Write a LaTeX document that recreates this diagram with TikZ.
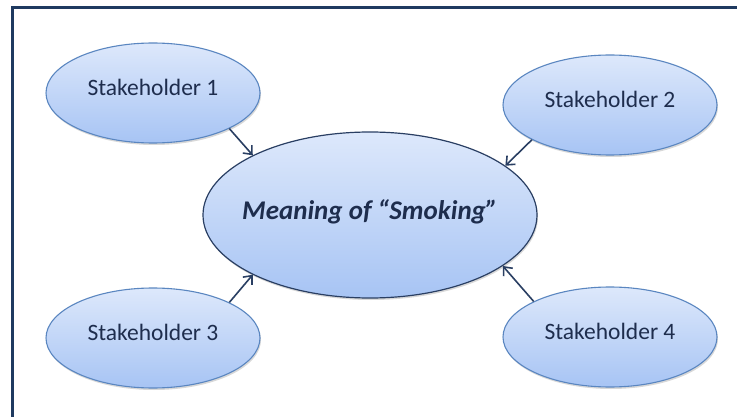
\documentclass[tikz,border=0pt]{standalone}
\usepackage{fontspec}
\setmainfont{Carlito}
\usetikzlibrary{shadows,arrows.meta,shapes.geometric}
\definecolor{frameblue}{HTML}{1F3A60}
\definecolor{edgeblue}{HTML}{5A86C0}
\definecolor{darkedge}{HTML}{2A3F63}
\definecolor{toplight}{HTML}{DDE8FB}
\definecolor{botblue}{HTML}{A7C4F4}
\definecolor{txtblue}{HTML}{1E2D4D}
\tikzset{
  stake/.style={ellipse, minimum width=214pt, minimum height=100pt, inner sep=0pt,
    draw=edgeblue, line width=1.1pt, top color=toplight, bottom color=botblue,
    drop shadow={shadow xshift=1pt, shadow yshift=-2pt, opacity=0.25, fill=black!60}},
  stxt/.style={text=txtblue, font=\fontsize{23.5}{27}\selectfont},
  centre/.style={ellipse, minimum width=334pt, minimum height=166pt, inner sep=0pt,
    draw=darkedge, line width=1.2pt, top color=toplight, bottom color=botblue,
    drop shadow={shadow xshift=1pt, shadow yshift=-2pt, opacity=0.25, fill=black!60}},
  ctxt/.style={text=txtblue, font=\fontsize{27}{31}\selectfont\bfseries\itshape},
  conn/.style={draw=darkedge, line width=1.6pt, -{Straight Barb[length=7pt,width=12pt,line width=1.6pt]}}
}
\begin{document}
\begin{tikzpicture}[x=1pt,y=-1pt]
\useasboundingbox (0,0) rectangle (737,417);
\fill[white] (0,0) rectangle (737,417);
\draw[frameblue, line width=3pt] (12,430) -- (12,7.5) -- (750,7.5);
\node[stake] (s1) at (153,93) {};
\node[stake] (s2) at (610,105) {};
\node[stake] (s3) at (153,338) {};
\node[stake] (s4) at (610,337) {};
\node[centre] (c) at (370,215) {};
\node[stxt] (t1) at (153,87) {Stakeholder 1};
\node[stxt] (t2) at (610,99) {Stakeholder 2};
\node[stxt] (t3) at (153,332) {Stakeholder 3};
\node[stxt] (t4) at (610,331) {Stakeholder 4};
\node[ctxt] (tc) at (370,212) {Meaning of “Smoking”};
\draw[conn] (s1.-25) -- (c.153.3);
\draw[conn] (s2.-156.9) -- (c.20.8);
\draw[conn] (s3.25.6) -- (c.-153.4);
\draw[conn] (s4.155.6) -- (c.-21);
\end{tikzpicture}
\end{document}
